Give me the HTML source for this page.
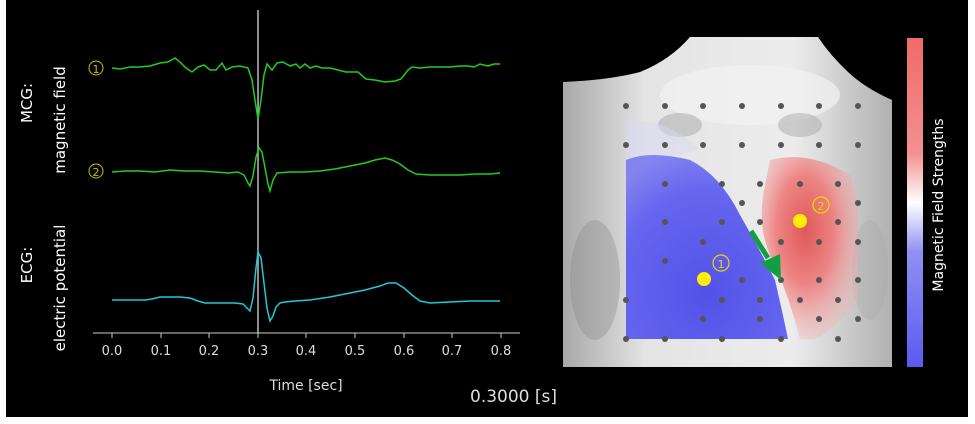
<!DOCTYPE html>
<html><head><meta charset="utf-8"><style>
html,body{margin:0;padding:0;background:#fff;}
body{width:975px;height:424px;overflow:hidden;position:relative;}
svg{position:absolute;left:0;top:0;}
</style></head><body>
<svg width="975" height="424" viewBox="0 0 975 424" xmlns="http://www.w3.org/2000/svg" font-family="'DejaVu Sans','Liberation Sans',sans-serif">
<defs>
<radialGradient id="gb" cx="0.5" cy="0.75" r="0.8">
<stop offset="0" stop-color="#4a4ae8"/><stop offset="0.7" stop-color="#5f5ff0"/><stop offset="1" stop-color="#8080f0"/></radialGradient>
<radialGradient id="gr" cx="0.45" cy="0.4" r="0.6">
<stop offset="0" stop-color="#e04848"/><stop offset="0.5" stop-color="#ee7a7a"/><stop offset="1" stop-color="#f4b0b0" stop-opacity="0.4"/></radialGradient>
<linearGradient id="cb" x1="0" y1="0" x2="0" y2="1">
<stop offset="0" stop-color="#f06a6a"/><stop offset="0.35" stop-color="#f49090"/><stop offset="0.5" stop-color="#ffffff"/><stop offset="0.65" stop-color="#9090f4"/><stop offset="1" stop-color="#5a5af0"/></linearGradient>
<linearGradient id="chest" x1="0" y1="0" x2="1" y2="0">
<stop offset="0" stop-color="#a8a8a8"/><stop offset="0.25" stop-color="#e4e4e4"/><stop offset="0.7" stop-color="#ececec"/><stop offset="1" stop-color="#b0b0b0"/></linearGradient>
</defs>
<rect x="6" y="0" width="962" height="417" fill="#000"/>
<line x1="258" y1="10" x2="258" y2="333" stroke="#bbb" stroke-width="1.5"/>
<line x1="93" y1="333" x2="520" y2="333" stroke="#ccc" stroke-width="1"/>
<g stroke="#ccc" stroke-width="1">
<line x1="112" y1="333" x2="112" y2="338"/><line x1="161" y1="333" x2="161" y2="338"/><line x1="209" y1="333" x2="209" y2="338"/><line x1="258" y1="333" x2="258" y2="338"/><line x1="306" y1="333" x2="306" y2="338"/><line x1="355" y1="333" x2="355" y2="338"/><line x1="404" y1="333" x2="404" y2="338"/><line x1="452" y1="333" x2="452" y2="338"/><line x1="501" y1="333" x2="501" y2="338"/>
</g>
<g fill="#ddd" font-size="13" text-anchor="middle">
<text x="112" y="355">0.0</text><text x="161" y="355">0.1</text><text x="209" y="355">0.2</text><text x="258" y="355">0.3</text><text x="306" y="355">0.4</text><text x="355" y="355">0.5</text><text x="404" y="355">0.6</text><text x="452" y="355">0.7</text><text x="501" y="355">0.8</text>
<text x="306" y="390" font-size="14">Time [sec]</text>
</g>
<text x="470" y="402" fill="#ddd" font-size="17">0.3000 [s]</text>
<g fill="#fff" font-size="15" text-anchor="middle">
<text transform="translate(32,103) rotate(-90)">MCG:</text>
<text transform="translate(65,120) rotate(-90)">magnetic field</text>
<text transform="translate(32,265) rotate(-90)">ECG:</text>
<text transform="translate(65,288) rotate(-90)">electric potential</text>
</g>
<g fill="none" stroke="#c8c000" stroke-width="1">
<circle cx="96" cy="68" r="7"/><circle cx="96" cy="171" r="7"/></g>
<text x="96" y="73" fill="#c8c000" font-size="11" text-anchor="middle">1</text>
<text x="96" y="176" fill="#c8c000" font-size="11" text-anchor="middle">2</text>
<polyline fill="none" stroke="#22cc22" stroke-width="1.5" points="112,68 120,69 130,67 140,67 150,66 160,63 168,62 175,58 180,62 186,68 192,72 198,67 204,65 210,70 216,70 222,63 226,70 232,67 240,66 248,68 252,80 255,100 258,119 261,100 264,75 267,64 272,70 277,63 283,62 290,66 296,64 300,68 305,64 310,68 316,66 322,68 330,68 338,70 346,72 358,72 366,79 375,80 385,82 395,81 401,79 408,70 412,67 420,68 430,67 440,67 450,67 460,66 468,66 474,67 480,64 488,66 494,64 500,64"/>
<polyline fill="none" stroke="#22cc22" stroke-width="1.5" points="112,172 125,171 140,171 155,172 170,170 185,171 200,171 215,172 228,173 238,172 244,175 248,183 250,186 253,176 256,157 259,148 262,152 265,168 268,184 270,191 273,180 277,173 290,172 305,172 320,171 335,169 350,166 365,163 375,160 385,158 392,160 400,164 408,170 416,174 430,175 445,175 460,175 475,174 490,174 500,173"/>
<polyline fill="none" stroke="#22c8d8" stroke-width="1.5" points="112,300 130,300 145,300 152,299 160,297 170,297 180,297 190,298 198,301 205,303 220,303 235,303 243,304 247,308 250,311 253,298 256,268 258,252 261,258 264,283 267,308 270,321 273,316 276,307 280,303 285,302 295,301 310,300 330,297 350,293 365,290 380,286 388,283 396,283 404,288 412,295 420,301 430,303 450,302 470,301 490,301 500,301"/>
<rect x="563" y="37" width="329" height="330" fill="url(#chest)"/>
<path d="M563,37 L690,37 Q670,60 640,72 Q610,80 563,82 Z" fill="#000"/>
<path d="M818,37 L892,37 L892,100 Q865,88 848,72 Q830,55 818,37 Z" fill="#000"/>
<ellipse cx="750" cy="95" rx="90" ry="30" fill="#f2f2f2" opacity="0.7"/>
<ellipse cx="680" cy="125" rx="22" ry="12" fill="#aaa" opacity="0.5"/>
<ellipse cx="800" cy="125" rx="22" ry="12" fill="#aaa" opacity="0.5"/>
<ellipse cx="595" cy="280" rx="25" ry="60" fill="#888" opacity="0.35"/>
<ellipse cx="870" cy="270" rx="18" ry="50" fill="#aaa" opacity="0.35"/>
<path d="M626,120 Q670,120 700,150 L626,165 Z" fill="#d8d8f4" opacity="0.5"/>
<path d="M626,160 Q650,150 690,160 Q720,175 740,215 Q760,250 775,280 Q782,310 788,339 L626,339 Z" fill="url(#gb)" opacity="0.95"/>
<path d="M770,160 Q810,150 850,175 L858,200 L858,300 Q835,330 815,339 L800,339 Q790,300 775,265 Q755,230 765,185 Z" fill="url(#gr)" opacity="0.9"/>
<g fill="#555">
<circle cx="626" cy="106" r="3"/><circle cx="665" cy="106" r="3"/><circle cx="703" cy="106" r="3"/><circle cx="742" cy="106" r="3"/><circle cx="781" cy="106" r="3"/><circle cx="819" cy="106" r="3"/><circle cx="858" cy="106" r="3"/>
<circle cx="626" cy="145" r="3"/><circle cx="665" cy="145" r="3"/><circle cx="703" cy="145" r="3"/><circle cx="742" cy="145" r="3"/><circle cx="781" cy="145" r="3"/><circle cx="819" cy="145" r="3"/><circle cx="858" cy="145" r="3"/>
<circle cx="665" cy="184" r="3"/><circle cx="722" cy="184" r="3"/><circle cx="760" cy="184" r="3"/><circle cx="800" cy="184" r="3"/><circle cx="838" cy="184" r="3"/>
<circle cx="742" cy="203" r="3"/><circle cx="858" cy="203" r="3"/>
<circle cx="665" cy="222" r="3"/><circle cx="722" cy="222" r="3"/><circle cx="760" cy="222" r="3"/><circle cx="838" cy="222" r="3"/>
<circle cx="703" cy="242" r="3"/><circle cx="781" cy="242" r="3"/><circle cx="819" cy="242" r="3"/><circle cx="858" cy="242" r="3"/>
<circle cx="665" cy="261" r="3"/><circle cx="742" cy="280" r="3"/><circle cx="781" cy="280" r="3"/><circle cx="819" cy="280" r="3"/><circle cx="858" cy="280" r="3"/>
<circle cx="626" cy="300" r="3"/><circle cx="722" cy="300" r="3"/><circle cx="760" cy="300" r="3"/><circle cx="800" cy="300" r="3"/><circle cx="838" cy="300" r="3"/>
<circle cx="703" cy="319" r="3"/><circle cx="760" cy="319" r="3"/><circle cx="819" cy="319" r="3"/><circle cx="858" cy="319" r="3"/>
<circle cx="626" cy="339" r="3"/><circle cx="665" cy="339" r="3"/><circle cx="722" cy="339" r="3"/><circle cx="781" cy="339" r="3"/><circle cx="838" cy="339" r="3"/>
</g>
<circle cx="704" cy="279" r="7" fill="#ffee00"/>
<circle cx="800" cy="221" r="7" fill="#ffee00"/>
<circle cx="721" cy="263" r="8" fill="none" stroke="#e8d800" stroke-width="1.2"/>
<text x="721" y="268" fill="#e8d800" font-size="11" text-anchor="middle">1</text>
<circle cx="821" cy="205" r="8" fill="none" stroke="#e8d800" stroke-width="1.2"/>
<text x="821" y="210" fill="#e8d800" font-size="11" text-anchor="middle">2</text>
<line x1="751" y1="231" x2="768" y2="258" stroke="#10a040" stroke-width="5"/>
<polygon points="760,263 780,254 781,280" fill="#10a040"/>
<rect x="907" y="38" width="16" height="329" fill="url(#cb)"/>
<text transform="translate(943,205) rotate(-90)" fill="#fff" font-size="14" text-anchor="middle">Magnetic Field Strengths</text>
</svg>
</body></html>
